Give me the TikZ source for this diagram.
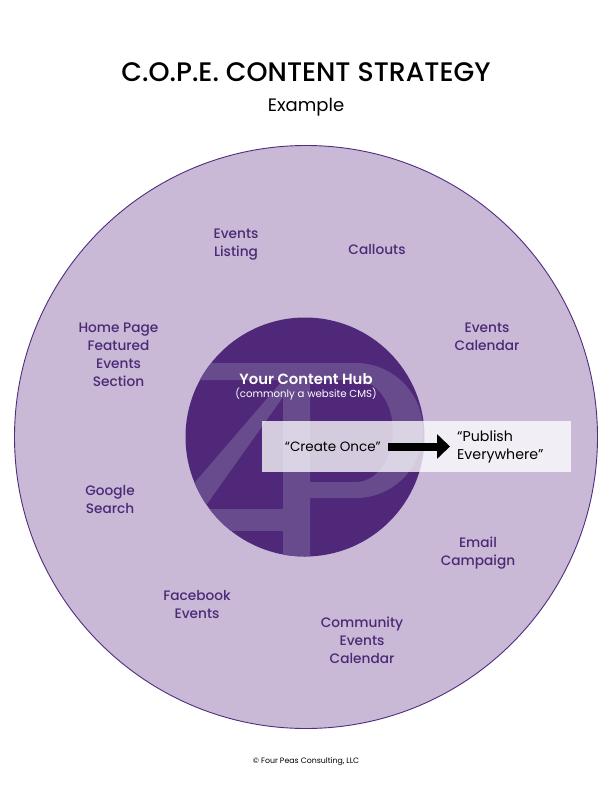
\documentclass[tikz,border=0pt]{standalone}
\usepackage{fontspec}
\setmainfont{Poppins}
\newfontfamily\medfont{Poppins Medium}
\newfontfamily\semifont{Poppins SemiBold}
\usetikzlibrary{arrows.meta}
\definecolor{ringfill}{HTML}{C9B8D6}
\definecolor{ringline}{HTML}{4F2D7F}
\definecolor{hubfill}{HTML}{50287A}
\definecolor{logofill}{HTML}{684B8C}
\definecolor{labelpurple}{HTML}{4B2A75}
\tikzset{
  spoke/.style={align=center,inner sep=0pt,text=labelpurple,font=\medfont\fontsize{13.7}{18}\selectfont},
  flowlabel/.style={inner sep=0pt,text=black,font=\fontsize{13.5}{18}\selectfont},
}
\begin{document}
\begin{tikzpicture}[x=1pt,y=-1pt]
\useasboundingbox (0,0) rectangle (612,792);
\fill[white] (0,0) rectangle (612,792);
\node[inner sep=0pt] (title) at (306,72) {\medfont\fontsize{26.8}{30}\selectfont C.O.P.E. CONTENT STRATEGY};
\node[inner sep=0pt] (subtitle) at (306,107.5) {\fontsize{18}{20}\selectfont Example};
\node[circle,draw=ringline,fill=ringfill,line width=0.9pt,minimum size=583pt,inner sep=0pt] (ring) at (306,437) {};
\node[circle,fill=hubfill,minimum size=239pt,inner sep=0pt] (hub) at (305,437) {};
\begin{scope}
\clip (305,437) circle (119.5pt);
\fill[logofill] (190,363) -- (356,363) arc[start angle=90,end angle=-90,x radius=67pt,y radius=67.5pt] -- (310,498) -- (310,560) -- (283,560) -- (283,380) -- (190,380) -- cycle
 (310,380) -- (310,482) -- (356,482) arc[start angle=-90,end angle=90,x radius=37pt,y radius=51pt] -- cycle;
\fill[logofill] (283,380) -- (190,488) -- (190,528) -- (283,397) -- cycle;
\fill[logofill] (190,509) rectangle (283,531);
\end{scope}
\fill[white,opacity=0.76] (262,421) rectangle (571,472);
\node[inner sep=0pt,text=white,font=\semifont\fontsize{14.8}{16}\selectfont] (hubtitle) at (306,379) {Your Content Hub};
\node[inner sep=0pt,text=white,font=\fontsize{10.2}{11}\selectfont] (hubsub) at (306,394) {(commonly a website CMS)};
\node[spoke] (listing) at (236,244.5) {Events\\Listing};
\node[spoke] (callouts) at (377,249.5) {Callouts};
\node[spoke] (calendar) at (487,336.5) {Events\\Calendar};
\node[spoke] (home) at (118.5,355) {Home Page\\Featured\\Events\\Section};
\node[spoke] (google) at (110,499.5) {Google\\Search};
\node[spoke] (facebook) at (197,604) {Facebook\\Events};
\node[spoke] (community) at (362,640) {Community\\Events\\Calendar};
\node[spoke] (email) at (478,553.5) {Email\\Campaign};
\node[flowlabel,inner xsep=7pt,anchor=east] (create) at (388,446.5) {``Create Once''};
\node[flowlabel,align=left,inner xsep=7pt,anchor=west,font=\fontsize{14.2}{18}\selectfont] (publish) at (450,446.5) {``Publish\\Everywhere''};
\draw[line width=8pt,-{Triangle[length=13pt,width=24pt]},black] (create.east) -- (publish.west);
\node[inner sep=0pt,font=\fontsize{7.8}{9}\selectfont] (footer) at (306,762) {© Four Peas Consulting, LLC};
\end{tikzpicture}
\end{document}
